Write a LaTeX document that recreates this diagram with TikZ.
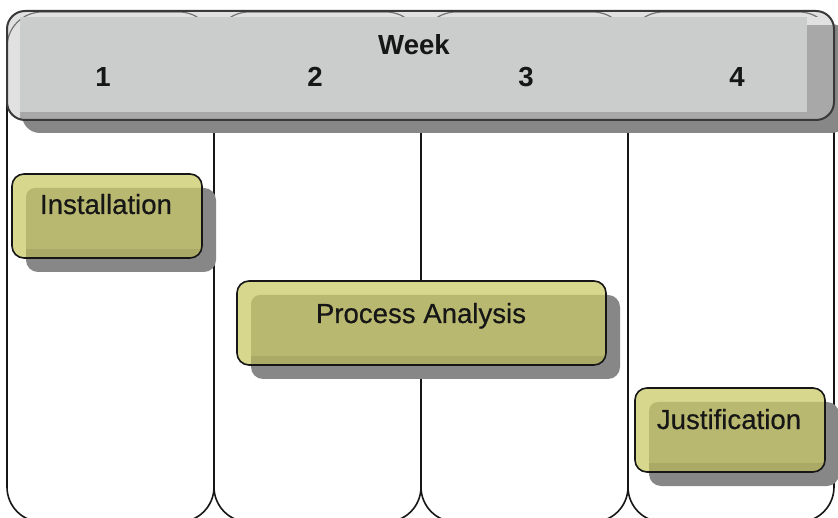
\documentclass[tikz,border=0pt]{standalone}
\usepackage{fontspec}
\setmainfont{Liberation Sans}
\newfontfamily\taskfont[FakeBold=0.5]{Liberation Sans}
\definecolor{hface}{HTML}{CBCCCC}
\definecolor{hlight}{HTML}{E1E1E1}
\definecolor{hdark}{HTML}{A8A8A8}
\definecolor{shadowc}{HTML}{878787}
\definecolor{oface}{HTML}{B9B870}
\definecolor{olight}{HTML}{D8D78E}
\definecolor{odark}{HTML}{AAA966}
\definecolor{ink}{HTML}{161616}
\tikzset{
  laneline/.style={draw=ink, line width=1.6pt, rounded corners=35pt},
  bevelline/.style={draw=black!55, line width=1.2pt, rounded corners=35pt},
  hborder/.style={draw=ink!85, line width=2pt, rounded corners=18pt},
  bborder/.style={draw=ink, line width=1.6pt, rounded corners=12pt},
  tasktext/.style={font=\taskfont\fontsize{27.6}{30}\selectfont, text=ink, inner sep=0pt},
  headtext/.style={font=\fontsize{27.6}{30}\selectfont\bfseries, text=ink, inner sep=0pt},
}
\begin{document}
\begin{tikzpicture}[x=1pt,y=-1pt,line join=round]
\useasboundingbox (0,0) rectangle (838,518);
\clip (0,0) rectangle (838,518);
% lanes (one per week)
\foreach \a/\b in {7/214,214/421,421/628,628/834}
  \path[laneline, fill=white] (\a,12) rectangle (\b,522);
% header shadow
\fill[shadowc, rounded corners=18pt] (22,24) rectangle (849,133);
% header body
\begin{scope}
  \clip[rounded corners=18pt] (7,11) rectangle (834,120);
  \fill[hlight] (0,0) rectangle (838,130);
  \fill[hface] (20,17) rectangle (807,112);
  \fill[hdark] (807,25) rectangle (838,130);
  \fill[hdark] (20,112) rectangle (838,130);
  \begin{scope}
    \clip (0,0) rectangle (838,17);
    \foreach \a/\b in {7/214,214/421,421/628,628/834}
      \path[bevelline] (\a,12) rectangle (\b,522);
  \end{scope}
  \begin{scope}
    \clip (0,0) rectangle (20,112);
    \path[bevelline] (7,12) rectangle (214,522);
  \end{scope}
\end{scope}
\path[hborder] (7,11) rectangle (834,120);
\node[headtext, anchor=base] (week) at (414,55) {Week};
\node[headtext, anchor=base] (w1) at (103,87) {1};
\node[headtext, anchor=base] (w2) at (315,87) {2};
\node[headtext, anchor=base] (w3) at (526,87) {3};
\node[headtext, anchor=base] (w4) at (737,87) {4};
% task boxes
\foreach \xa/\ya/\xb/\yb in {12/174/202/258, 237/281/606/365, 635/388/825/472} {
  \fill[shadowc, rounded corners=12pt] (\xa+14,\ya+14) rectangle (\xb+14,\yb+14);
  \begin{scope}
    \clip[rounded corners=12pt] (\xa,\ya) rectangle (\xb,\yb);
    \fill[olight] (\xa,\ya) rectangle (\xb,\yb);
    \fill[oface, rounded corners=9pt] (\xa+14,\ya+14) rectangle (\xb+10,\yb+10);
    \fill[odark] (\xa+14,\yb-9) rectangle (\xb,\yb);
  \end{scope}
  \path[bborder] (\xa,\ya) rectangle (\xb,\yb);
}
\node[tasktext, anchor=base] (t1) at (106,214) {Installation};
\node[tasktext, anchor=base] (t2) at (421,323) {Process Analysis};
\node[tasktext, anchor=base] (t3) at (729,429) {Justification};
\end{tikzpicture}
\end{document}
